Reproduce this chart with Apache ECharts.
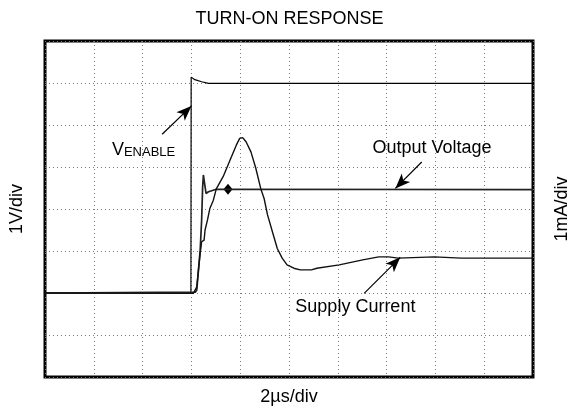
<!DOCTYPE html>
<html>
<head>
<meta charset="utf-8">
<script src="https://cdn.jsdelivr.net/npm/echarts@6/dist/echarts.min.js"></script>
<style>html,body{margin:0;padding:0;background:#fff}#c{width:579px;height:414px}</style>
</head>
<body>
<div id="c"></div>
<script>
// time in divisions (2µs/div), level in divisions
const enableTime  = [0, 2.99, 2.995, 3.07, 3.21, 3.35, 3.75, 10];
const enableLevel = [2.0, 2.0, 7.14, 7.08, 7.03, 6.99, 6.99, 6.99];

const voutTime  = [0, 3.08, 3.11, 3.145, 3.18, 3.21, 3.23, 3.246, 3.266, 3.30, 3.35, 3.51, 10];
const voutLevel = [2.0, 2.02, 2.07, 2.55, 3.02, 3.74, 4.52, 4.81, 4.64, 4.37, 4.41, 4.47, 4.46];

const currTime  = [0, 3.04, 3.11, 3.145, 3.18, 3.21, 3.26, 3.28, 3.33, 3.38, 3.45, 3.51, 3.65, 3.78, 3.92, 3.99, 4.05, 4.12, 4.22, 4.32, 4.42, 4.49, 4.56, 4.66, 4.76, 4.86, 4.96, 5.10, 5.23, 5.46, 5.57, 6.03, 6.51, 6.84, 7.04, 7.24, 7.98, 8.53, 10];
const currLevel = [2.0, 1.99, 2.15, 2.55, 2.95, 3.22, 3.26, 3.50, 3.74, 4.02, 4.21, 4.48, 4.77, 5.13, 5.52, 5.68, 5.70, 5.60, 5.36, 4.97, 4.49, 4.25, 3.86, 3.46, 3.06, 2.83, 2.67, 2.59, 2.55, 2.55, 2.59, 2.67, 2.79, 2.86, 2.86, 2.83, 2.86, 2.83, 2.83];

const markerPoint = [3.75, 4.47];

const titleText = 'TURN-ON RESPONSE';
const xName = '2\u00b5s/div';
const yLeftName = '1V/div';
const yRightName = '1mA/div';

// annotations: [text position], [arrow from, arrow to]
const voutLabelPos = [7.93, 5.45];
const voutArrow = [[7.72, 5.12], [7.18, 4.49]];
const currLabelPos = [6.36, 1.67];
const currArrow = [[6.54, 1.99], [7.28, 2.85]];
const enableLabelPos = [2.02, 5.47];
const enableArrow = [[2.40, 5.78], [3.00, 6.45]];

const zip = (a, b) => a.map((v, i) => [v, b[i]]);
const FONT = 'Liberation Sans, Arial, Helvetica, sans-serif';

const chart = echarts.init(document.getElementById('c'), null, {renderer: 'canvas'});

function arrowLine(pair) {
  return {
    silent: true,
    symbol: ['none', 'arrow'],
    symbolSize: [9, 15],
    label: {show: false},
    lineStyle: {color: '#000', width: 1.2, type: 'solid'},
    data: [[{coord: pair[0]}, {coord: pair[1]}]]
  };
}

const gridLine = {show: true, lineStyle: {color: '#7a7a7a', width: 1, type: [1, 3]}};

chart.setOption({
  animation: false,
  backgroundColor: '#fff',
  title: {
    text: titleText,
    left: 'center',
    top: 10,
    padding: 0,
    textStyle: {fontFamily: FONT, fontSize: 18, fontWeight: 'normal', color: '#000'}
  },
  grid: {left: 44, right: 39, top: 41, bottom: 37, show: true, borderColor: '#000', borderWidth: 3, backgroundColor: 'transparent'},
  xAxis: {
    type: 'value', min: 0, max: 10, interval: 1,
    name: xName, nameLocation: 'middle', nameGap: 11,
    nameTextStyle: {fontFamily: FONT, fontSize: 18, color: '#000'},
    axisLine: {show: false}, axisTick: {show: false}, axisLabel: {show: false},
    splitLine: gridLine
  },
  yAxis: [{
    type: 'value', min: 0, max: 8, interval: 1,
    name: yLeftName, nameLocation: 'middle', nameGap: 19, nameRotate: 90,
    nameTextStyle: {fontFamily: FONT, fontSize: 18, color: '#000'},
    axisLine: {show: false}, axisTick: {show: false}, axisLabel: {show: false},
    splitLine: gridLine
  }, {
    type: 'value', min: 0, max: 8, interval: 1, position: 'right',
    name: yRightName, nameLocation: 'middle', nameGap: 20, nameRotate: 90,
    nameTextStyle: {fontFamily: FONT, fontSize: 18, color: '#000'},
    axisLine: {show: false}, axisTick: {show: false}, axisLabel: {show: false},
    splitLine: {show: false}
  }],
  series: [
    {
      name: 'VENABLE', type: 'line', data: zip(enableTime, enableLevel),
      showSymbol: false, symbol: 'none',
      lineStyle: {color: '#000', width: 1.2},
      markLine: arrowLine(enableArrow)
    },
    {
      name: 'Output Voltage', type: 'line', data: zip(voutTime, voutLevel),
      showSymbol: false, symbol: 'none',
      lineStyle: {color: '#222', width: 1.7},
      markLine: arrowLine(voutArrow)
    },
    {
      name: 'Supply Current', type: 'line', data: zip(currTime, currLevel),
      showSymbol: false, symbol: 'none',
      lineStyle: {color: '#111', width: 1.4},
      markLine: arrowLine(currArrow)
    },
    {
      name: 'marker', type: 'scatter', data: [markerPoint],
      symbol: 'diamond', symbolSize: [9, 11],
      itemStyle: {color: '#000', opacity: 1}, silent: true
    },
    {
      name: 'labels', type: 'scatter', symbolSize: 0, silent: true,
      itemStyle: {opacity: 1},
      data: [
        {value: voutLabelPos, label: {show: true, formatter: 'Output Voltage'}},
        {value: currLabelPos, label: {show: true, formatter: 'Supply Current'}},
        {value: enableLabelPos, label: {show: true, formatter: '{v|V}{s|ENABLE}',
          rich: {
            v: {fontFamily: FONT, fontSize: 18, color: '#000', lineHeight: 24, verticalAlign: 'bottom'},
            s: {fontFamily: FONT, fontSize: 13, color: '#000', lineHeight: 13, verticalAlign: 'bottom'}
          }}}
      ],
      label: {position: 'inside', fontFamily: FONT, fontSize: 18, color: '#000'}
    }
  ]
});
</script>
</body>
</html>
